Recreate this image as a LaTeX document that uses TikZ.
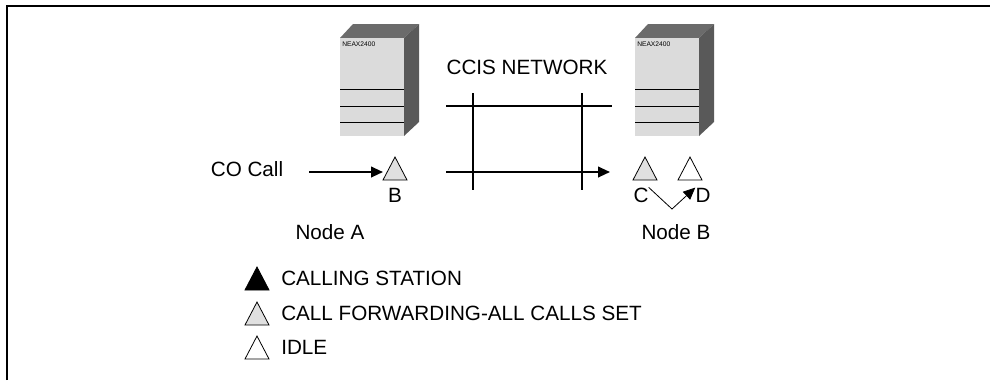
\documentclass[tikz,border=0pt]{standalone}
\usepackage{fontspec}
\setmainfont{Liberation Sans}
\usetikzlibrary{shapes.geometric,arrows.meta}
\definecolor{frontgray}{gray}{0.86}
\definecolor{topgray}{gray}{0.42}
\definecolor{sidegray}{gray}{0.35}
\definecolor{trigray}{gray}{0.88}
\tikzset{
  tri/.style={isosceles triangle,isosceles triangle stretches,shape border rotate=90,minimum width=18pt,minimum height=17.25pt,inner sep=0pt,outer sep=0pt,draw,line width=0.6pt,anchor=apex},
  lbl/.style={font=\fontsize{15.5}{18}\selectfont,inner sep=0pt},
  neax/.style={font=\fontsize{5}{6}\selectfont,inner sep=0pt,anchor=north west},
  tip/.style={-{Triangle[length=9pt,width=8pt]}}
}
\begin{document}
\begin{tikzpicture}[x=0.75pt,y=-0.75pt]
            \useasboundingbox (0,0) rectangle (990,380);
            \draw[line width=1.5pt] (7,380)--(7,6)--(990,6);
            \fill[topgray] (340,38)--(353,24)--(419,24)--(404,38)--cycle;
            \fill[sidegray] (404,38)--(419,24)--(419,122)--(404,136)--cycle;
            \fill[frontgray] (340,38) rectangle (404,136);
            \draw[line width=0.75pt] (340,89)--(404,89) (340,106)--(404,106) (340,122)--(404,122);
            \node[neax] (neaxA) at (342,42){NEAX2400};
            \fill[topgray] (635,38)--(648,24)--(714,24)--(699,38)--cycle;
            \fill[sidegray] (699,38)--(714,24)--(714,122)--(699,136)--cycle;
            \fill[frontgray] (635,38) rectangle (699,136);
            \draw[line width=0.75pt] (635,89)--(699,89) (635,106)--(699,106) (635,122)--(699,122);
            \node[neax] (neaxB) at (637,42){NEAX2400};
            \node[lbl] (ccis) at (527,67){CCIS NETWORK};
            \draw[line width=1.5pt] (446,106)--(612,106) (473,93)--(473,190) (582,93)--(582,190);
            \draw[line width=1.5pt,tip] (446,172)--(610,172);
            \node[lbl] (cocall) at (247,169){CO Call};
            \node[tri,fill=trigray] (triB) at (395,157){};
            \coordinate (coin) at (309,172);
            \coordinate (Bin) at (383,172);
            \draw[line width=1.5pt,tip] (coin)--(Bin);
            \node[lbl] (labB) at (395,195){B};
            \node[tri,fill=trigray] (triC) at (645,157){};
            \node[tri,fill=white] (triD) at (690,157){};
            \node[lbl] (labC) at (641,195){C};
            \node[lbl] (labD) at (703,195){D};
            \coordinate (dip) at (672,209);
            \draw[line width=0.6pt,tip] (labC.north east)--(dip)--(labD.north west);
            \node[lbl] (nodeA) at (330,232){Node A};
            \node[lbl] (nodeB) at (676,232){Node B};
            \node[tri,fill=black] (legtri1) at (257,267){};
            \node[lbl,anchor=west] (leg1) at (281,278){CALLING STATION};
            \node[tri,fill=trigray] (legtri2) at (257,302){};
            \node[lbl,anchor=west] (leg2) at (281,313){CALL FORWARDING-ALL CALLS SET};
            \node[tri,fill=white] (legtri3) at (257,336){};
            \node[lbl,anchor=west] (leg3) at (281,347){IDLE};
        \end{tikzpicture}
\end{document}
